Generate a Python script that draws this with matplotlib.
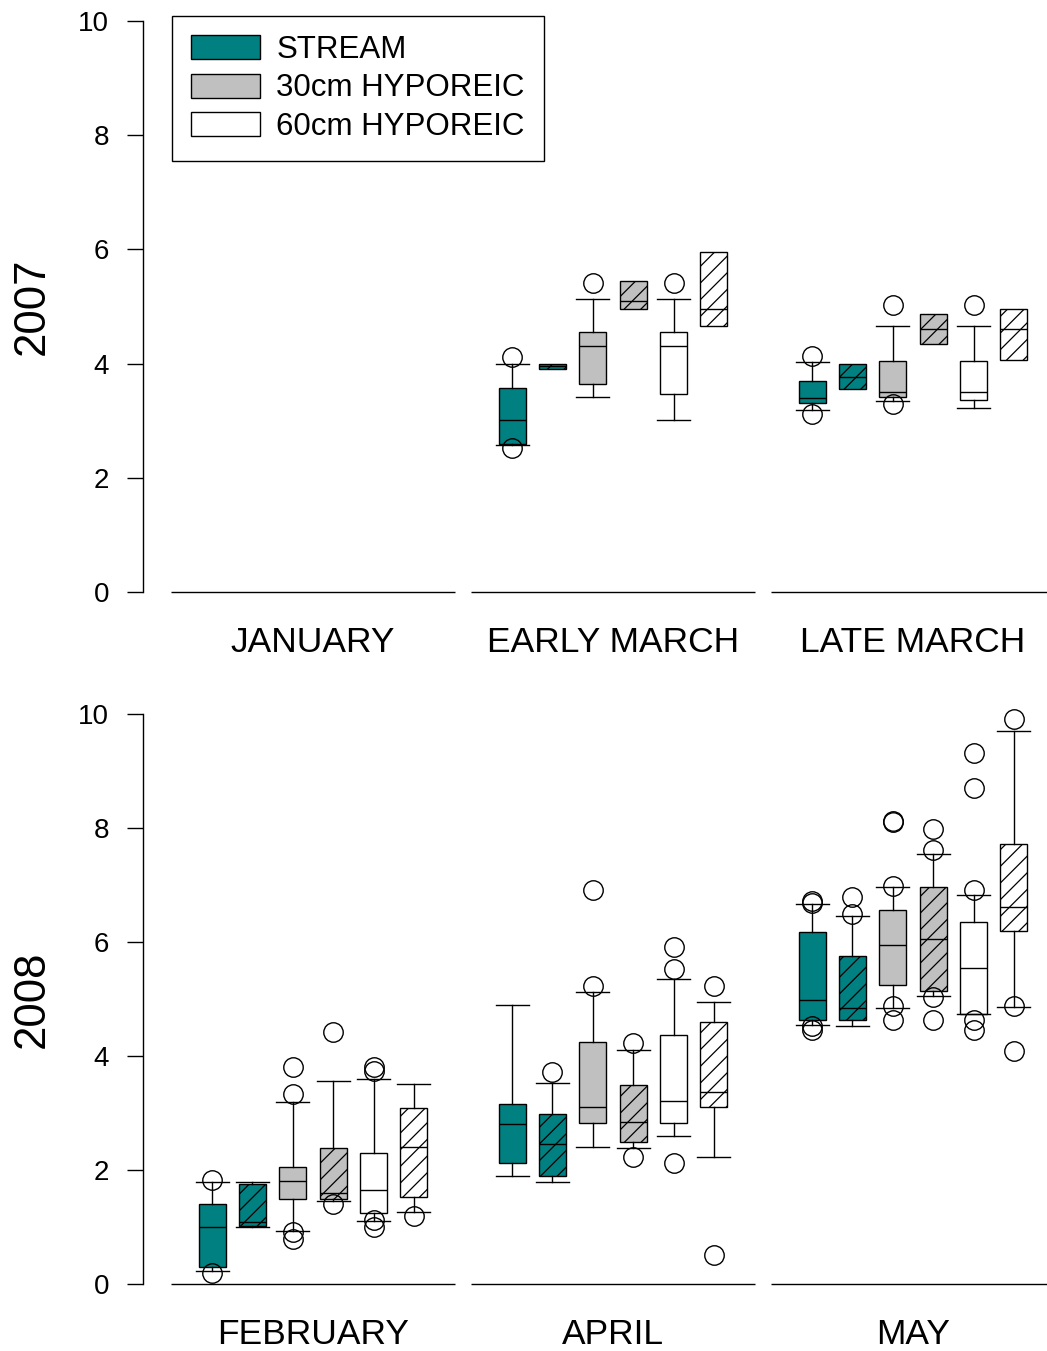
import numpy as np
import matplotlib.pyplot as plt
import matplotlib.transforms as mtransforms
from matplotlib.patches import Patch

plt.rcParams['font.family'] = ['Liberation Sans', 'DejaVu Sans']
plt.rcParams['hatch.linewidth'] = 0.9

# box stats per month: (whisker low, q1, median, q3, whisker high)
# order: stream, stream (hatched), 30cm, 30cm (hatched), 60cm, 60cm (hatched)
months_2007 = ['JANUARY', 'EARLY MARCH', 'LATE MARCH']
months_2008 = ['FEBRUARY', 'APRIL', 'MAY']

jan_boxes = []
jan_fliers = []

early_march_boxes = [
    (2.58, 2.60, 3.01, 3.58, 3.99),
    (3.91, 3.91, 3.95, 4.00, 4.00),
    (3.41, 3.64, 4.31, 4.56, 5.13),
    (4.95, 4.95, 5.10, 5.45, 5.45),
    (3.01, 3.46, 4.31, 4.56, 5.13),
    (4.65, 4.65, 4.96, 5.95, 5.95),
]
early_march_fliers = [[4.12, 2.52], [], [5.42], [], [5.42], []]

late_march_boxes = [
    (3.19, 3.31, 3.40, 3.69, 4.03),
    (3.56, 3.56, 3.77, 4.00, 4.00),
    (3.35, 3.41, 3.51, 4.04, 4.65),
    (4.35, 4.35, 4.60, 4.86, 4.86),
    (3.22, 3.36, 3.51, 4.04, 4.65),
    (4.06, 4.06, 4.61, 4.96, 4.96),
]
late_march_fliers = [[4.13, 3.12], [], [5.02, 3.30], [], [5.02], []]

feb_boxes = [
    (0.22, 0.30, 1.00, 1.40, 1.79),
    (1.00, 1.02, 1.09, 1.75, 1.79),
    (0.93, 1.50, 1.80, 2.05, 3.19),
    (1.46, 1.50, 1.60, 2.38, 3.56),
    (1.10, 1.25, 1.65, 2.29, 3.60),
    (1.26, 1.53, 2.40, 3.08, 3.51),
]
feb_fliers = [[1.82, 0.19], [], [3.34, 3.81, 0.92, 0.79],
              [4.42, 1.40], [3.81, 3.73, 1.12, 1.00], [1.20]]

april_boxes = [
    (1.90, 2.12, 2.80, 3.15, 4.90),
    (1.79, 1.90, 2.45, 2.99, 3.52),
    (2.40, 2.82, 3.10, 4.25, 5.12),
    (2.38, 2.50, 2.85, 3.50, 4.11),
    (2.60, 2.82, 3.21, 4.36, 5.35),
    (2.22, 3.10, 3.36, 4.60, 4.94),
]
april_fliers = [[], [3.72], [5.23, 6.92], [4.23, 2.22],
                [5.53, 5.92, 2.12], [5.22, 0.51]]

may_boxes = [
    (4.54, 4.63, 4.98, 6.17, 6.67),
    (4.53, 4.63, 4.84, 5.76, 6.45),
    (4.85, 5.24, 5.95, 6.56, 6.96),
    (5.05, 5.14, 6.05, 6.97, 7.54),
    (4.73, 4.73, 5.55, 6.35, 6.82),
    (4.86, 6.20, 6.61, 7.72, 9.71),
]
may_fliers = [[6.69, 6.72, 4.53, 4.45], [6.50, 6.79],
              [6.99, 8.10, 8.12, 4.88, 4.64], [7.61, 7.99, 5.03, 4.64],
              [6.91, 8.71, 9.32, 4.63, 4.45], [9.92, 4.88, 4.08]]

legend_labels = ['STREAM', '30cm HYPOREIC', '60cm HYPOREIC']

TEAL = '#008080'
GREY = '#c0c0c0'
colors = [TEAL, TEAL, GREY, GREY, 'white', 'white']
hatches = [None, '//', None, '//', None, '//']
offsets = (np.arange(6) - 2.5) * 0.1345

W, H = 1047, 1351
fig = plt.figure(figsize=(W / 100, H / 100), dpi=100)
left = 143 / W
ax_top = fig.add_axes([left, 1 - 592 / H, 1 - left, (592 - 21) / H])
ax_bot = fig.add_axes([left, 1 - 1284 / H, 1 - left, (1284 - 714) / H])


def draw_panel(ax, months, boxes_list, fliers_list, year):
    trans = mtransforms.blended_transform_factory(ax.transData, ax.transAxes)
    for g, (boxes, fliers) in enumerate(zip(boxes_list, fliers_list)):
        ax.hlines(0, g - 0.473, g + 0.473, color='black', lw=1, clip_on=False)
        ax.text(g, -0.089, months[g], transform=trans, ha='center',
                va='center', fontsize=25.5)
        for i, (st, fl) in enumerate(zip(boxes, fliers)):
            lo, q1, med, q3, hi = st
            stats = [dict(whislo=lo, q1=q1, med=med, q3=q3, whishi=hi,
                          fliers=fl)]
            whiskers = (lo < q1) or (hi > q3)
            art = ax.bxp(stats, positions=[g + offsets[i]], widths=0.09,
                         capwidths=0.11, patch_artist=True,
                         showcaps=whiskers, manage_ticks=False,
                         boxprops=dict(facecolor=colors[i], edgecolor='black',
                                       hatch=hatches[i], lw=1),
                         medianprops=dict(color='black', lw=1),
                         whiskerprops=dict(color='black', lw=1),
                         capprops=dict(color='black', lw=1),
                         flierprops=dict(marker='o', mfc='none', mec='black',
                                         ms=14, mew=1, ls='none'))
            for key in art:
                for a in art[key]:
                    a.set_clip_on(False)

    ax.set_xlim(-0.5667, 2.4467)
    ax.set_ylim(0, 10)
    for s in ['top', 'right', 'bottom']:
        ax.spines[s].set_visible(False)
    ax.spines['left'].set_bounds(0, 10)
    ax.spines['left'].set_linewidth(1)
    ax.set_xticks([])
    ax.set_yticks(np.arange(0, 11, 2))
    ax.tick_params(axis='y', direction='out', length=11.5, width=1,
                   pad=13, labelsize=20)
    ax.text(-0.1228, 0.5, year, transform=ax.transAxes, rotation=90,
            ha='center', va='center', fontsize=31.5)


draw_panel(ax_top, months_2007,
           [jan_boxes, early_march_boxes, late_march_boxes],
           [jan_fliers, early_march_fliers, late_march_fliers], '2007')
draw_panel(ax_bot, months_2008,
           [feb_boxes, april_boxes, may_boxes],
           [feb_fliers, april_fliers, may_fliers], '2008')

handles = [Patch(facecolor=c, edgecolor='black', lw=1)
           for c in [TEAL, GREY, 'white']]
leg = ax_top.legend(handles, legend_labels, loc='upper left',
                    bbox_to_anchor=(172 / W, 1 - 16 / H),
                    bbox_transform=fig.transFigure, borderaxespad=0,
                    fontsize=22.5, handlelength=2.22, handleheight=0.8,
                    handletextpad=0.52, borderpad=0.6, labelspacing=0.28,
                    fancybox=False, edgecolor='black', framealpha=1)
leg.get_frame().set_linewidth(1)

fig.savefig('out.png', dpi=100)
